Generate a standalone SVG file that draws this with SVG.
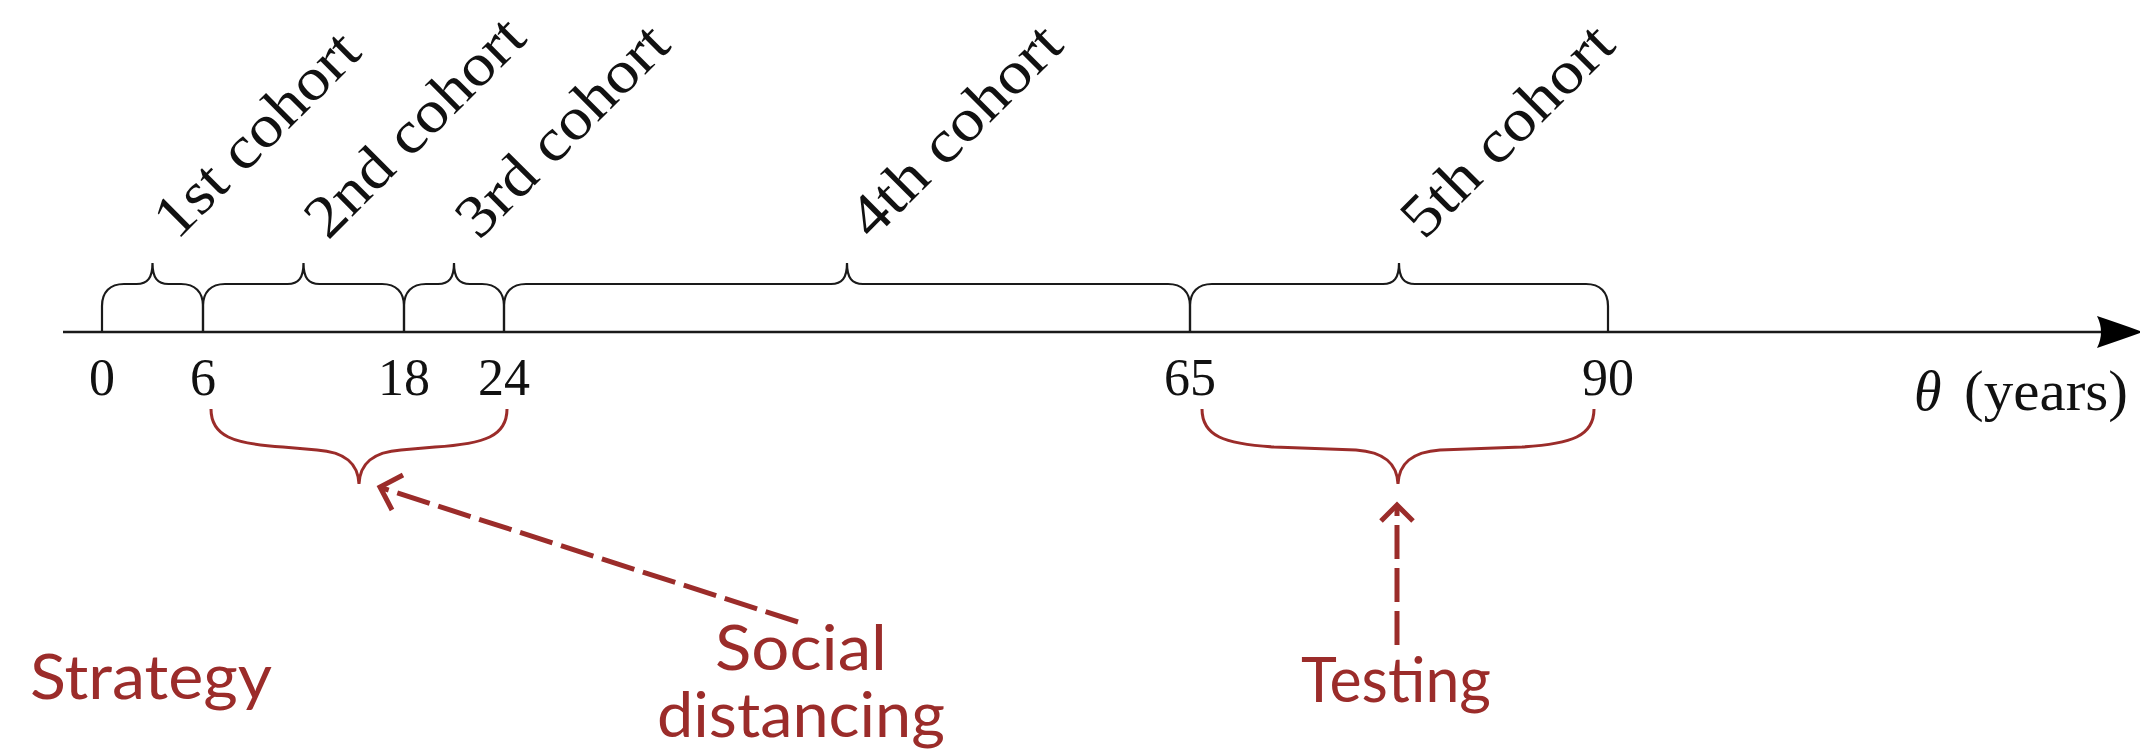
<svg xmlns="http://www.w3.org/2000/svg" width="2140" height="753" viewBox="0 0 2140 753">
<style>
.ax{fill:none;stroke:#1a1a1a;stroke-width:2.7}
.br{fill:none;stroke:#1a1a1a;stroke-width:2.2}
.num{font-family:"Liberation Serif","Times New Roman",serif;font-size:52px;fill:#111;text-anchor:middle}
.coh{font-family:"Liberation Serif","Times New Roman",serif;font-size:60px;fill:#111}
.rb{fill:none;stroke:#9b2c2a;stroke-width:3}
.da{fill:none;stroke:#9b2c2a;stroke-width:5;stroke-dasharray:34 9}
.ah{fill:none;stroke:#9b2c2a;stroke-width:5;stroke-linecap:butt;stroke-linejoin:miter}
.lab{font-family:Lato,"Open Sans",sans-serif;font-weight:400;font-size:61px;fill:#9b2c2a}
</style>
<rect width="2140" height="753" fill="#fff"/>
<g id="axis">
<line class="ax" x1="63" y1="332" x2="2105" y2="332"/>
<path d="M2143,332 Q2118,323 2097,316 Q2105,332 2097,348 Q2118,341 2143,332 Z" fill="#000"/>
<text class="num" x="102" y="395">0</text>
<text class="num" x="203" y="395">6</text>
<text class="num" x="404" y="395">18</text>
<text class="num" x="504" y="395">24</text>
<text class="num" x="1190" y="395">65</text>
<text class="num" x="1608" y="395">90</text>
<text x="1914" y="410" font-family="Liberation Serif,serif" font-style="italic" font-size="56" fill="#111">θ</text>
<text x="1964" y="410" font-family="Liberation Serif,serif" font-size="57" fill="#111" textLength="164" lengthAdjust="spacingAndGlyphs">(years)</text>
</g>
<g id="cohort1">
<path class="br" d="M102,332 V306 C102,292 110,284 124,284 H136.5 C147.5,284 152.5,278 152.5,263 C152.5,278 157.5,284 168.5,284 H181 C195,284 203,292 203,306 V332"/>
<text class="coh" transform="translate(177,241) rotate(-45)" textLength="264" lengthAdjust="spacingAndGlyphs">1st cohort</text>
</g>
<g id="cohort2">
<path class="br" d="M203,332 V306 C203,292 211,284 225,284 H287.5 C298.5,284 303.5,278 303.5,263 C303.5,278 308.5,284 319.5,284 H382 C396,284 404,292 404,306 V332"/>
<text class="coh" transform="translate(328,241) rotate(-45)" textLength="284" lengthAdjust="spacingAndGlyphs">2nd cohort</text>
</g>
<g id="cohort3">
<path class="br" d="M404,332 V306 C404,292 412,284 426,284 H438 C449,284 454,278 454,263 C454,278 459,284 470,284 H482 C496,284 504,292 504,306 V332"/>
<text class="coh" transform="translate(479,241) rotate(-45)" textLength="274" lengthAdjust="spacingAndGlyphs">3rd cohort</text>
</g>
<g id="cohort4">
<path class="br" d="M504,332 V306 C504,292 512,284 526,284 H831 C842,284 847,278 847,263 C847,278 852,284 863,284 H1168 C1182,284 1190,292 1190,306 V332"/>
<text class="coh" transform="translate(872,241) rotate(-45)" textLength="274" lengthAdjust="spacingAndGlyphs">4th cohort</text>
</g>
<g id="cohort5">
<path class="br" d="M1190,332 V306 C1190,292 1198,284 1212,284 H1383 C1394,284 1399,278 1399,263 C1399,278 1404,284 1415,284 H1586 C1600,284 1608,292 1608,306 V332"/>
<text class="coh" transform="translate(1424,241) rotate(-45)" textLength="274" lengthAdjust="spacingAndGlyphs">5th cohort</text>
</g>
<g id="strategy">
<text class="lab" x="30" y="699" textLength="242" lengthAdjust="spacingAndGlyphs">Strategy</text>
</g>
<g id="social-distancing">
<path class="rb" d="M211,409 C211,436 233,444 283,447 L317,450 C345,452 358,463 359,484 C360,463 373,452 401,450 L435,447 C485,444 507,436 507,409"/>
<text class="lab" x="715" y="670" textLength="172" lengthAdjust="spacingAndGlyphs">Social</text>
<text class="lab" x="657" y="737" textLength="288" lengthAdjust="spacingAndGlyphs">distancing</text>
</g>
<g id="testing">
<path class="rb" d="M1202,409 C1202,436 1224,444 1274,447 L1356,450 C1384,452 1397,463 1398,484 C1399,463 1412,452 1440,450 L1522,447 C1572,444 1594,436 1594,409"/>
<text class="lab" x="1301" y="702" textLength="190" lengthAdjust="spacingAndGlyphs">Testing</text>
</g>
<g id="connectors">
<path class="da" d="M798,622 L382,488"/>
<path class="ah" d="M392,510 L380,487 L403,475"/>
<path class="da" d="M1397,645 L1397,507"/>
<path class="ah" d="M1381,521 L1397,505 L1413,521"/>
</g>
</svg>
